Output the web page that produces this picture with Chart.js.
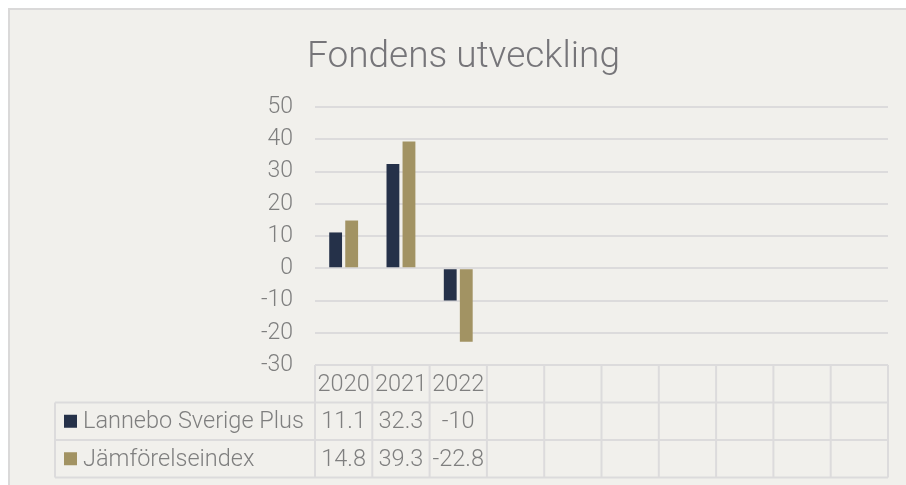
<!DOCTYPE html>
<html>
<head>
<meta charset="utf-8">
<script src="https://cdn.jsdelivr.net/npm/chart.js@4.4.1/dist/chart.umd.min.js"></script>
<style>
body{margin:0;background:#fff;}
</style>
</head>
<body>
<canvas id="fonden" width="906" height="485"></canvas>
<script>
// data lästa ur bilden
var kategorier = ['2020','2021','2022','','','','','','',''];
var lannebo = [11.1, 32.3, -10];
var jamforelse = [14.8, 39.3, -22.8];
var serieNamn = ['Lannebo Sverige Plus', 'Jämförelseindex'];
var serieFarg = ['#253149', '#a29363'];
var yMin = -30, yMax = 50, ySteg = 10;

var textFarg = '#7f7f7f';
var linjeFarg = '#dcdbdc';
var typsnitt = 'Roboto';

// bakgrund, ram och rubrik
var ram = {
    id: 'ram',
    beforeDraw: function(chart){
        var c = chart.ctx;
        c.save();
        c.fillStyle = '#fff';
        c.fillRect(0, 0, chart.width, chart.height);
        c.fillStyle = '#f1f0ec';
        c.fillRect(9, 9, chart.width, chart.height);
        c.strokeStyle = '#dad9d9';
        c.lineWidth = 2;
        c.strokeRect(9, 9, chart.width + 10, chart.height + 10);
        c.fillStyle = '#767579';
        c.font = '300 37px ' + typsnitt;
        c.textAlign = 'center';
        c.textBaseline = 'alphabetic';
        c.fillText('Fondens utveckling', 463.5, 67);
        c.restore();
    }
};

// datatabell under diagrammet
var tabell = {
    id: 'tabell',
    afterDraw: function(chart){
        var c = chart.ctx;
        var x = chart.scales.x;
        var area = chart.chartArea;
        var bredd = (area.right - area.left) / kategorier.length;
        var radH = 37.5;
        var topp = area.bottom;
        var vanster = 55;
        var serier = [lannebo, jamforelse];
        c.save();
        c.strokeStyle = linjeFarg;
        c.lineWidth = 2;
        c.beginPath();
        // rubrikrad
        c.moveTo(area.left, topp); c.lineTo(area.right, topp);
        for (var r = 1; r <= 3; r++) {
            c.moveTo(vanster, topp + r * radH); c.lineTo(area.right, topp + r * radH);
        }
        for (var i = 0; i <= kategorier.length; i++) {
            var lx = area.left + i * bredd;
            c.moveTo(lx, topp); c.lineTo(lx, topp + 3 * radH);
        }
        c.moveTo(vanster, topp + radH); c.lineTo(vanster, topp + 3 * radH);
        c.stroke();

        c.fillStyle = textFarg;
        c.font = '300 23.5px ' + typsnitt;
        c.textBaseline = 'middle';
        c.textAlign = 'center';
        for (var k = 0; k < kategorier.length; k++) {
            var cx = x.getPixelForValue(k);
            c.fillText(kategorier[k], cx, topp + radH / 2 + 1);
            for (var s = 0; s < serier.length; s++) {
                if (serier[s][k] !== undefined) {
                    c.fillText(String(serier[s][k]), cx, topp + (s + 1.5) * radH + 1);
                }
            }
        }
        c.textAlign = 'left';
        for (var s2 = 0; s2 < serieNamn.length; s2++) {
            var my = topp + (s2 + 1.5) * radH;
            c.fillStyle = serieFarg[s2];
            c.fillRect(64, my - 6.5, 13, 13);
            c.fillStyle = textFarg;
            c.fillText(serieNamn[s2], 83, my + 1);
        }
        c.restore();
    }
};

new Chart(document.getElementById('fonden'), {
    type: 'bar',
    data: {
        labels: kategorier,
        datasets: [
            { label: serieNamn[0], data: lannebo, backgroundColor: serieFarg[0] },
            { label: serieNamn[1], data: jamforelse, backgroundColor: serieFarg[1] }
        ]
    },
    options: {
        responsive: false,
        animation: false,
        categoryPercentage: 0.56,
        barPercentage: 0.8,
        layout: { padding: { left: 0, right: 18, top: 107, bottom: 120 } },
        plugins: { legend: { display: false }, tooltip: { enabled: false }, title: { display: false } },
        scales: {
            x: { display: false },
            y: {
                min: yMin, max: yMax,
                afterFit: function(s){ s.width = 315; },
                border: { display: false },
                grid: { color: linjeFarg, lineWidth: 2, drawTicks: false },
                ticks: {
                    stepSize: ySteg, padding: 22, color: textFarg,
                    font: { family: typsnitt, size: 23, weight: '300' }
                }
            }
        }
    },
    plugins: [ram, tabell]
});
</script>
</body>
</html>
